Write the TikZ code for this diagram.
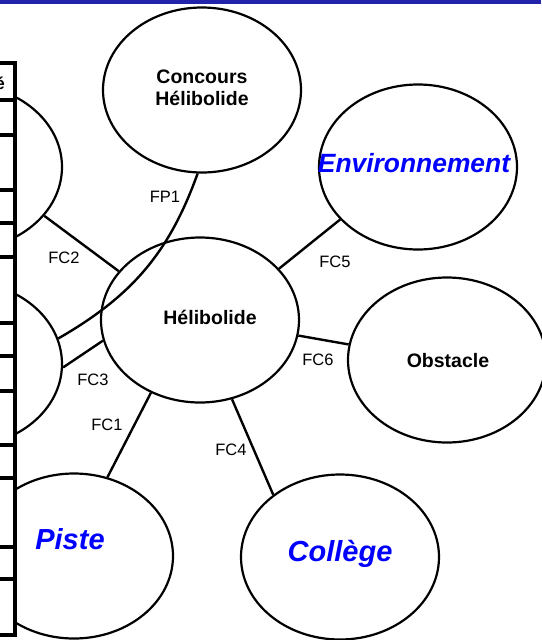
\documentclass[tikz,border=0pt]{standalone}
\usepackage{fontspec}
\setmainfont{Liberation Sans}
\usetikzlibrary{shapes.geometric}
\definecolor{barblue}{RGB}{34,34,170}
\definecolor{txtblue}{RGB}{0,0,255}
\begin{document}
\begin{tikzpicture}[x=1pt,y=-1pt,
  bub/.style={draw=black, ellipse, line width=2.2pt, minimum width=198pt, minimum height=165pt, inner sep=0pt},
  conn/.style={line width=2.4pt},
  fclab/.style={font=\fontsize{16.5}{18}\selectfont, inner sep=0pt},
  btxt/.style={font=\fontsize{19.5}{22}\selectfont\bfseries, inner sep=0pt, align=center},
  itxt/.style={font=\fontsize{29}{32}\selectfont\bfseries\itshape, text=txtblue, inner sep=0pt},
  tline/.style={line width=4pt}]
\useasboundingbox (0,0) rectangle (541,640);
\fill[white] (0,0) rectangle (541,640);
% ellipses
\node[bub] (conc) at (202,90) {};
\node[bub] (env) at (418,167) {};
\node[bub] (obs) at (447,360) {};
\node[bub] (heli) at (200,320) {};
\node[bub] (coll) at (340,557) {};
\node[bub] (piste) at (74,556) {};
\node[bub] (ul) at (-37,167) {};
\node[bub] (ll) at (-37,364) {};
% texts
\node[btxt] (tconc) at (202,88) {Concours\\Hélibolide};
\node[btxt] (theli) at (210,317) {Hélibolide};
\node[btxt] (tobs) at (448,361) {Obstacle};
\node[itxt, font=\fontsize{26.4}{30}\selectfont\bfseries\itshape] (tenv) at (414,163) {Environnement};
\node[itxt] (tcoll) at (340,554) {Collège};
\node[itxt] (tpiste) at (70,539) {Piste};
% connectors
\draw[conn] (conc.267) .. controls (169,253) and (132,296) .. (ll.15);
\draw[conn] (ul.329) -- (heli.149.4);
\draw[conn] (ll.358) -- (heli.192.8);
\draw[conn] (heli.236.7) -- (piste.67);
\draw[conn] (heli.292.3) -- (coll.137.6);
\draw[conn] (heli.33.9) -- (env.214.7);
\draw[conn] (heli.351.9) -- (obs.171.3);
% labels
\node[fclab] (lfp1) at (165,197) {FP1};
\node[fclab] (lfc2) at (64,258) {FC2};
\node[fclab] (lfc3) at (93,380) {FC3};
\node[fclab] (lfc1) at (107,425) {FC1};
\node[fclab] (lfc4) at (231,450) {FC4};
\node[fclab] (lfc5) at (335,262) {FC5};
\node[fclab] (lfc6) at (318,360) {FC6};
% table at left
\fill[white] (-5,63) rectangle (15,637);
\node[anchor=east, inner sep=0pt, font=\fontsize{17}{19}\selectfont\bfseries] (ecut) at (5,83) {é};
\foreach \yy in {63,100,135,190,223,257,323,356,391,445,478,547,579,635}
  \draw[tline] (-2,\yy) -- (17,\yy);
\draw[line width=4.5pt] (14.8,61) -- (14.8,637);
% top bar
\fill[barblue] (0,0) rectangle (541,4);
\end{tikzpicture}
\end{document}
